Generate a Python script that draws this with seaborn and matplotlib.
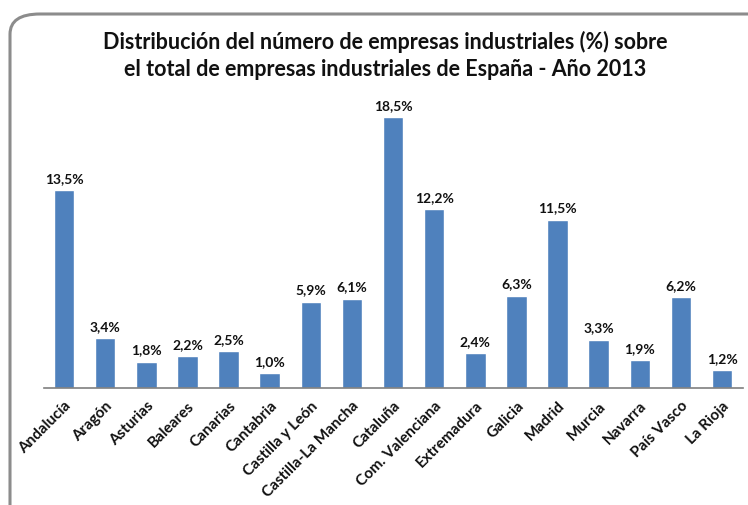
import matplotlib
matplotlib.use("Agg")
import matplotlib.pyplot as plt
from matplotlib.patches import FancyBboxPatch
import seaborn as sns
import pandas as pd

# Datos: % de empresas industriales por comunidad autónoma (2013)
regiones = ["Andalucía", "Aragón", "Asturias", "Baleares", "Canarias", "Cantabria",
            "Castilla y León", "Castilla-La Mancha", "Cataluña", "Com. Valenciana",
            "Extremadura", "Galicia", "Madrid", "Murcia", "Navarra", "País Vasco",
            "La Rioja"]
porcentajes = [13.5, 3.4, 1.8, 2.2, 2.5, 1.0, 5.9, 6.1, 18.5, 12.2,
               2.4, 6.3, 11.5, 3.3, 1.9, 6.2, 1.2]

df = pd.DataFrame({"region": regiones, "pct": porcentajes})

sns.set_style("white")
plt.rcParams['font.family'] = ['Lato', 'DejaVu Sans']

W, H = 748, 505
fig = plt.figure(figsize=(W / 100, H / 100), dpi=100)

# marco redondeado como en la captura original
frame = FancyBboxPatch((10 / W, -0.05), 1.05, (H - 14) / H + 0.05,
                       boxstyle="round,pad=0,rounding_size=0.04",
                       transform=fig.transFigure, fill=False,
                       edgecolor="#8c8c8c", linewidth=2.2, clip_on=False)
fig.patches.append(frame)

ax = fig.add_axes([43.5 / W, (H - 388) / H, (742.6 - 43.5) / W, (388 - 95) / H])
sns.barplot(data=df, x="region", y="pct", color="#4F81BD", width=0.5,
            saturation=1, ax=ax)

ax.set_ylim(0, 20)
ax.set_xlim(-0.5, len(regiones) - 0.5)
ax.set_xlabel("")
ax.set_ylabel("")
ax.set_yticks([])
for side in ["left", "right", "top"]:
    ax.spines[side].set_visible(False)
ax.spines["bottom"].set_color("#7f7f7f")
ax.spines["bottom"].set_linewidth(1.2)

# etiquetas del eje x rotadas
ax.set_xticks(range(len(regiones)))
ax.set_xticklabels(regiones, rotation=45, ha="right", rotation_mode="anchor",
                   fontsize=11, fontweight="bold", color="#111111")
ax.tick_params(axis="x", which="major", length=0, pad=8)
# marcas entre categorías
ax.set_xticks([i - 0.5 for i in range(len(regiones) + 1)], minor=True)
ax.tick_params(axis="x", which="minor", length=5, color="#7f7f7f", width=1)

# etiquetas de valor
for i, v in enumerate(porcentajes):
    ax.text(i, v + 0.35, f"{v:.1f}%".replace(".", ","), ha="center", va="bottom",
            fontsize=10, fontweight="bold", color="#111111")

fig.text(385 / W, 1 - 42 / H,
         "Distribución del número de empresas industriales (%) sobre",
         ha="center", va="center", fontsize=15.5, fontweight="bold", color="#111111")
fig.text(385 / W, 1 - 70 / H,
         "el total de empresas industriales de España - Año 2013",
         ha="center", va="center", fontsize=15.5, fontweight="bold", color="#111111")

fig.savefig("out.png", dpi=100)
